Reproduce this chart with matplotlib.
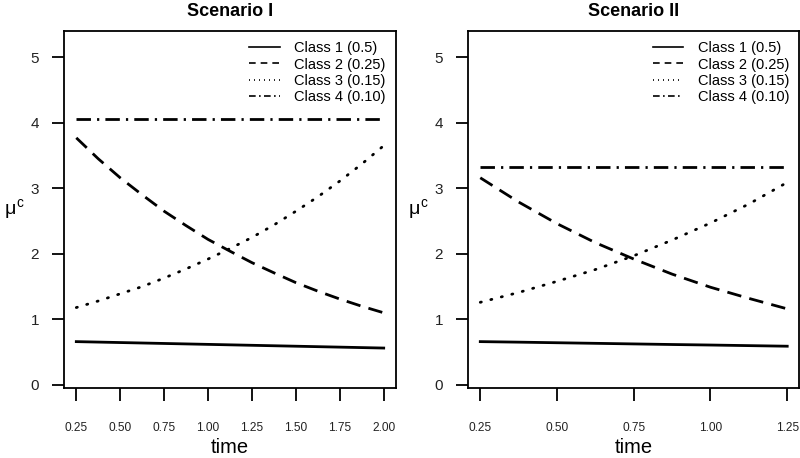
import numpy as np
import matplotlib
matplotlib.use("Agg")
import matplotlib.pyplot as plt
from matplotlib.lines import Line2D

plt.rcParams['font.family'] = ['Liberation Sans', 'DejaVu Sans']
plt.rcParams['mathtext.fontset'] = 'custom'
plt.rcParams['mathtext.rm'] = 'Liberation Sans'
plt.rcParams['mathtext.it'] = 'Liberation Sans'

# ---- data ----
time_1 = [0.25, 0.375, 0.5, 0.625, 0.75, 0.875, 1.0, 1.125, 1.25, 1.375, 1.5, 1.625, 1.75, 1.875, 2.0]
s1_class1 = [0.66, 0.653, 0.646, 0.639, 0.632, 0.625, 0.618, 0.611, 0.604, 0.597, 0.590, 0.583, 0.576, 0.569, 0.562]
s1_class2 = [3.77, 3.45, 3.16, 2.90, 2.65, 2.43, 2.22, 2.04, 1.865, 1.71, 1.56, 1.43, 1.31, 1.20, 1.10]
s1_class3 = [1.18, 1.28, 1.39, 1.50, 1.63, 1.77, 1.92, 2.08, 2.25, 2.44, 2.65, 2.87, 3.11, 3.37, 3.65]
s1_class4 = [4.06] * 15

time_2 = [0.25, 0.375, 0.5, 0.625, 0.75, 0.875, 1.0, 1.125, 1.25]
s2_class1 = [0.66, 0.652, 0.643, 0.634, 0.625, 0.616, 0.608, 0.599, 0.59]
s2_class2 = [3.16, 2.79, 2.46, 2.17, 1.92, 1.69, 1.49, 1.32, 1.16]
s2_class3 = [1.26, 1.41, 1.58, 1.76, 1.97, 2.21, 2.47, 2.76, 3.09]
s2_class4 = [3.33] * 9

xticks_1 = [0.25, 0.50, 0.75, 1.00, 1.25, 1.50, 1.75, 2.00]
xticks_2 = [0.25, 0.50, 0.75, 1.00, 1.25]
yticks = [0, 1, 2, 3, 4, 5]
labels = ['Class 1 (0.5)', 'Class 2 (0.25)', 'Class 3 (0.15)', 'Class 4 (0.10)']
titles = ['Scenario I', 'Scenario II']

# ---- styles ----
lw = 2.0
styles = [
    dict(linestyle='-'),
    dict(linestyle=(0, (5.2, 3.0))),
    dict(linestyle=(0, (0.4, 3.5)), dash_capstyle='round'),
    dict(linestyle=(0, (5.2, 2.2, 0.8, 2.2))),
]
leg_styles = [
    dict(linestyle='-'),
    dict(linestyle=(0, (4.0, 3.0))),
    dict(linestyle=(0, (0.6, 2.4))),
    dict(linestyle=(0, (4.0, 2.0, 1.0, 2.0))),
]

fig = plt.figure(figsize=(8, 4.58), dpi=100)
W, H = 800, 458
def ax_at(x0, x1, y0, y1):
    return fig.add_axes([x0 / W, 1 - y1 / H, (x1 - x0) / W, (y1 - y0) / H])

axes = [ax_at(64, 396, 31, 387.5), ax_at(468, 799.5, 31, 387.5)]
datasets = [
    (time_1, [s1_class1, s1_class2, s1_class3, s1_class4], xticks_1),
    (time_2, [s2_class1, s2_class2, s2_class3, s2_class4], xticks_2),
]

for ax, (t, series, xt), title in zip(axes, datasets, titles):
    for y, st in zip(series, styles):
        ax.plot(t, y, color='black', lw=lw, **st)
    rng = t[-1] - t[0]
    ax.set_xlim(t[0] - 0.04 * rng, t[-1] + 0.04 * rng)
    ax.set_ylim(-0.04, 5.40)
    ax.set_xticks(xt)
    ax.set_xticklabels([f'{v:.2f}' for v in xt], fontsize=8.6, color='#222222')
    ax.set_yticks(yticks)
    ax.set_yticklabels([str(v) for v in yticks], fontsize=11, color='#222222')
    ax.tick_params(axis='x', direction='out', length=9, width=1.3, pad=16)
    ax.tick_params(axis='y', direction='out', length=9, width=1.3, pad=9)
    for sp in ax.spines.values():
        sp.set_linewidth(1.3)
    ax.set_title(title, fontsize=13, fontweight='bold', pad=11)
    ax.set_xlabel('time', fontsize=14.5, labelpad=2.5)
    ax.set_ylabel(r'$\mu^c$', fontsize=14, rotation=0, labelpad=12, va='center')
    handles = [Line2D([0], [0], color='black', lw=1.2, **st) for st in leg_styles]
    ax.legend(handles, labels, loc='upper right', frameon=False, fontsize=10.5,
              handlelength=2.1, handletextpad=1.0, labelspacing=0.16,
              borderaxespad=0.3, bbox_to_anchor=(1.0, 1.0))

fig.savefig('out.png', dpi=100)
